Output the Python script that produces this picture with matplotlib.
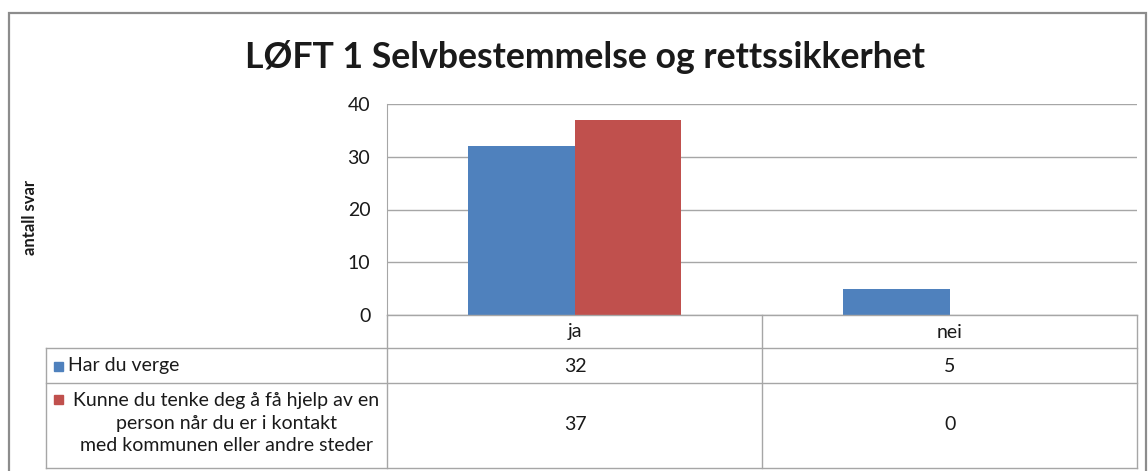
import numpy as np
import matplotlib
matplotlib.use("Agg")
import matplotlib.pyplot as plt
from matplotlib.lines import Line2D
from matplotlib.patches import Rectangle

plt.rcParams['font.family'] = ['Lato', 'DejaVu Sans']

# data
categories = ['ja', 'nei']
series_names = ['Har du verge',
                'Kunne du tenke deg å få hjelp av en\nperson når du er i kontakt\nmed kommunen eller andre steder']
har_verge = [32, 5]
hjelp_person = [37, 0]
series_values = [har_verge, hjelp_person]
colors = ['#4F81BD', '#C0504D']
yticks = [0, 10, 20, 30, 40]

W, H = 1148, 471
fig = plt.figure(figsize=(W / 100, H / 100), dpi=100)


def fx(px):
    return px / W


def fy(py):
    return 1 - py / H


grid_c = '#A6A6A6'
txt_c = '#1a1a1a'
fs = 14

# outer chart border
fig.add_artist(Rectangle((fx(9), fy(480)), fx(1146) - fx(9), fy(13) - fy(480),
                         transform=fig.transFigure, fill=False,
                         edgecolor='#8C8C8C', lw=1.6))

ax = fig.add_axes([fx(387), fy(315), fx(1137) - fx(387), fy(104) - fy(315)])

x = np.arange(len(categories))
bw = 0.285
for i, vals in enumerate(series_values):
    off = (i - 0.5) * bw
    ax.bar(x + off, vals, width=bw, color=colors[i], zorder=3)

ax.set_xlim(-0.5, len(categories) - 0.5)
ax.set_ylim(0, 40)
ax.set_yticks(yticks)
ax.set_yticklabels([str(t) for t in yticks], fontsize=fs, color=txt_c)
ax.tick_params(axis='y', length=0, pad=12)
ax.set_xticks([])
ax.grid(axis='y', color=grid_c, lw=1, zorder=0)
for s in ['top', 'right', 'bottom']:
    ax.spines[s].set_visible(False)
ax.spines['left'].set_color(grid_c)

fig.text(fx(30), fy(217), 'antall svar', rotation=90, fontsize=12,
         fontweight='bold', ha='center', va='center', color=txt_c)

fig.text(fx(585), fy(57), 'LØFT 1 Selvbestemmelse og rettssikkerhet',
         fontsize=25.7, fontweight='bold', ha='center', va='center', color=txt_c)

# data table below the plot
def hline(y, x0, x1):
    fig.add_artist(Line2D([fx(x0), fx(x1)], [fy(y), fy(y)],
                          transform=fig.transFigure, color=grid_c, lw=1))


def vline(xp, y0, y1):
    fig.add_artist(Line2D([fx(xp), fx(xp)], [fy(y0), fy(y1)],
                          transform=fig.transFigure, color=grid_c, lw=1))


hline(315, 387, 1137)
for yy in [348, 383, 468]:
    hline(yy, 46, 1137)
vline(46, 348, 468)
vline(387, 315, 468)
vline(762, 315, 468)
vline(1137, 315, 468)

col_centers = [575, 950]
row_centers = [366, 425]
for j, cat in enumerate(categories):
    fig.text(fx(col_centers[j]), fy(332), cat, fontsize=fs,
             ha='center', va='center', color=txt_c)
    for i, vals in enumerate(series_values):
        fig.text(fx(col_centers[j]), fy(row_centers[i]), str(vals[j]),
                 fontsize=fs, ha='center', va='center', color=txt_c)

# legend keys + names
fig.add_artist(Rectangle((fx(54), fy(371)), fx(63) - fx(54), fy(362) - fy(371),
                         transform=fig.transFigure, color=colors[0]))
fig.text(fx(68), fy(366), series_names[0], fontsize=fs, ha='left',
         va='center', color=txt_c)
fig.add_artist(Rectangle((fx(54), fy(404)), fx(63) - fx(54), fy(395) - fy(404),
                         transform=fig.transFigure, color=colors[1]))
fig.text(fx(226), fy(423), series_names[1], fontsize=fs, ha='center',
         va='center', color=txt_c, linespacing=1.4, multialignment='center')

fig.savefig('out.png', dpi=100)
